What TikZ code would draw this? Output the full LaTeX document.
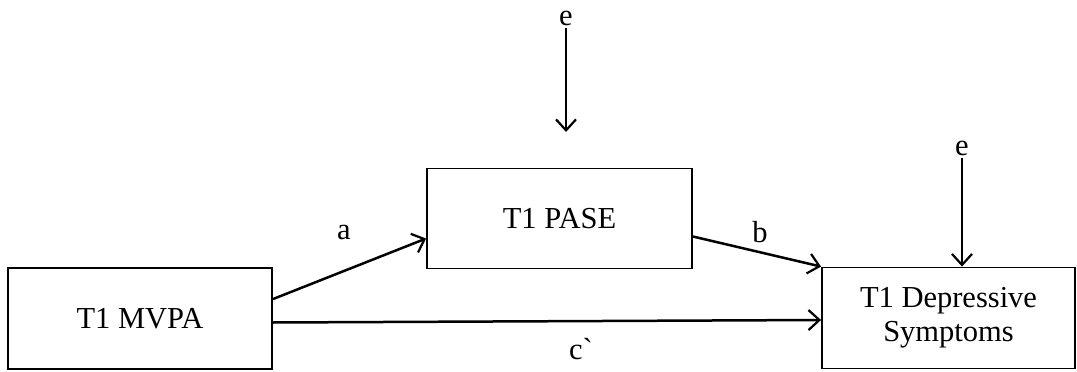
\documentclass[tikz,border=0pt]{standalone}
\usepackage{fontspec}
\setmainfont{Liberation Serif}[Ligatures=TeXOff]
\usetikzlibrary{arrows.meta,calc}
\begin{document}
\begin{tikzpicture}[x=1pt,y=-1pt,
  box/.style={draw,line width=1.8pt,inner sep=0pt,align=center,font=\fontsize{30.5}{34}\selectfont},
  lbl/.style={font=\fontsize{30.5}{34}\selectfont,inner sep=0pt},
  conn/.style={line width=2.5pt,-{Straight Barb[length=11pt,width=20pt,line width=2.2pt]}}]
\useasboundingbox (0,0) rectangle (1077,372);
\node[box,minimum width=264pt,minimum height=101pt] (mvpa) at (140,318.5) {T1 MVPA};
\node[box,minimum width=265pt,minimum height=100pt] (pase) at (559.5,218.5) {T1 PASE};
\node[box,minimum width=253pt,minimum height=101pt] (dep) at (948.5,318) {T1 Depressive\\Symptoms};
\node[lbl] (e1) at (566,18) {e};
\node[lbl] (e2) at (962,148) {e};
\coordinate (e1end) at (566,132);
\node[lbl] (la) at (344,232) {a};
\node[lbl] (lb) at (760,232) {b};
\node[lbl] (lc) at (581,349) {c`};
\draw[conn] ($(mvpa.north east)+(0,32)$) -- ($(pase.west)+(0,20)$);
\draw[conn] ($(pase.east)+(0,18)$) -- (dep.north west);
\draw[conn] ($(mvpa.east)+(0,4)$) -- ($(dep.west)+(0,2)$);
\draw[conn] (e1.south) ++(0,2) -- (e1end);
\draw[conn] (e2.south) ++(0,2) -- (e2.south |- dep.north);
\end{tikzpicture}
\end{document}
